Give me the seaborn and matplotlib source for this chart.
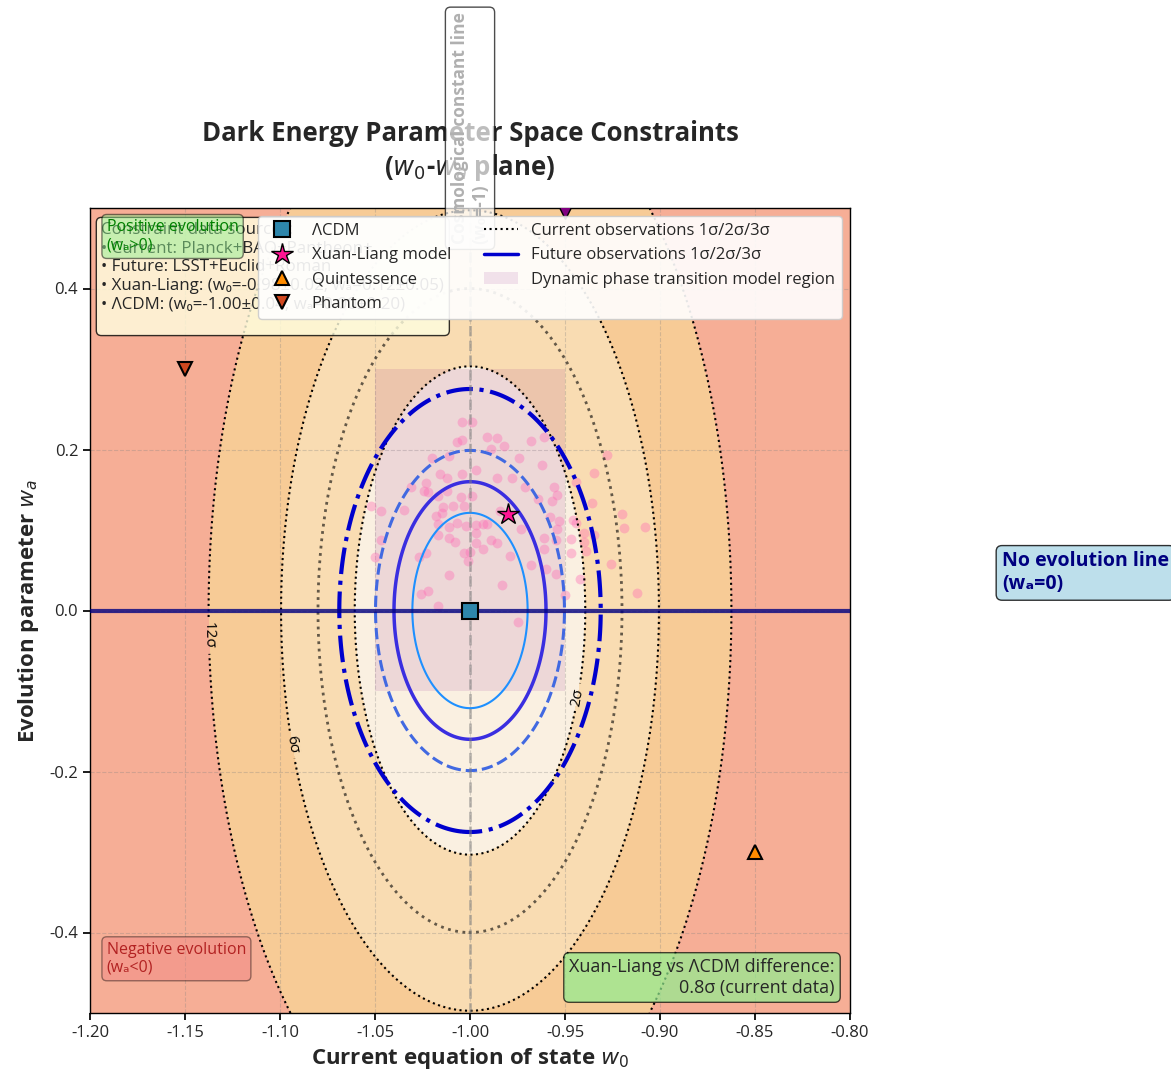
import numpy as np
import pandas as pd
import matplotlib
matplotlib.use("Agg")
import matplotlib.pyplot as plt
import seaborn as sns
from matplotlib.lines import Line2D
from matplotlib.patches import Patch, Rectangle

sns.set_theme(style="ticks")
plt.rcParams["font.family"] = ["Open Sans", "DejaVu Sans"]
plt.rcParams["axes.unicode_minus"] = False

# ---- model points ----
lcdm_w0, lcdm_wa = -1.00, 0.00
xl_w0, xl_wa = -0.98, 0.12
quint_w0, quint_wa = -0.85, -0.30
phantom_w0, phantom_wa = -1.15, 0.30
extra_w0, extra_wa = -0.95, 0.50

# ---- Gaussian constraint widths (centred on LCDM) ----
current_sigma = (0.04, 0.20)
future_sigma = (0.02, 0.08)
chi2_sigma_levels = [2.30, 6.18, 11.83]
chi2_mid_level = 4.0

# ---- dynamic phase transition region ----
phase_w0 = (-1.05, -0.95)
phase_wa = (-0.10, 0.30)

# ---- Xuan-Liang posterior samples ----
sample_w0 = [-1.004, -0.999, -1.007, -1.004, -0.991, -0.986, -0.989, -1.020, -1.011, -0.997,
             -1.016, -1.012, -1.004, -0.986, -1.023, -1.031, -1.024, -1.012, -1.022, -1.005,
             -0.999, -1.017, -1.052, -1.047, -1.035, -1.014, -1.009, -1.003, -1.018, -1.015,
             -0.984, -1.007, -1.011, -1.002, -0.997, -0.993, -0.991, -1.017, -0.997, -1.017,
             -1.011, -1.008, -0.997, -0.989, -0.986, -1.047, -1.003, -1.000, -0.993, -1.023,
             -1.050, -1.001, -1.027, -1.011, -1.026, -1.022, -1.017,
             -0.961, -0.962, -0.956, -0.954, -0.957, -0.958, -0.953, -0.954, -0.961, -0.955,
             -0.961, -0.960, -0.955, -0.928, -0.935, -0.944, -0.936, -0.920, -0.919, -0.908,
             -0.946, -0.944, -0.940, -0.935, -0.947, -0.940, -0.947, -0.939, -0.926, -0.942,
             -0.912, -0.950,
             -0.982, -0.974, -0.968, -0.978, -0.971, -0.964, -0.973, -0.979, -0.968, -0.975,
             -0.983]
sample_wa = [0.234, 0.234, 0.209, 0.212, 0.215, 0.214, 0.201, 0.189, 0.192, 0.175,
             0.169, 0.164, 0.169, 0.164, 0.159, 0.154, 0.149, 0.149, 0.147, 0.141,
             0.142, 0.142, 0.130, 0.124, 0.125, 0.128, 0.130, 0.130, 0.118, 0.121,
             0.123, 0.109, 0.104, 0.105, 0.106, 0.107, 0.108, 0.107, 0.096, 0.094,
             0.090, 0.085, 0.084, 0.087, 0.084, 0.087, 0.072, 0.073, 0.076, 0.072,
             0.067, 0.061, 0.067, 0.044, 0.020, 0.024, 0.006,
             0.216, 0.181, 0.154, 0.143, 0.136, 0.116, 0.111, 0.101, 0.090, 0.087,
             0.077, 0.051, 0.045, 0.193, 0.171, 0.160, 0.134, 0.120, 0.103, 0.104,
             0.112, 0.109, 0.096, 0.094, 0.089, 0.085, 0.072, 0.074, 0.058, 0.039,
             0.022, 0.019,
             0.204, 0.190, 0.211, 0.165, 0.154, 0.138, 0.101, 0.068, 0.057, -0.014,
             0.032]

x_ticks = [-1.20, -1.15, -1.10, -1.05, -1.00, -0.95, -0.90, -0.85, -0.80]
y_ticks = [-0.4, -0.2, 0.0, 0.2, 0.4]

# ---- grid for chi-square surfaces ----
w0_grid = np.linspace(-1.2, -0.8, 400)
wa_grid = np.linspace(-0.5, 0.5, 400)
W0, WA = np.meshgrid(w0_grid, wa_grid)
chi2_current = ((W0 - lcdm_w0) / current_sigma[0]) ** 2 + ((WA - lcdm_wa) / current_sigma[1]) ** 2
chi2_future = ((W0 - lcdm_w0) / future_sigma[0]) ** 2 + ((WA - lcdm_wa) / future_sigma[1]) ** 2

fig = plt.figure(figsize=(11.71, 10.75), dpi=100)
ax = fig.add_axes([90 / 1171, 62 / 1075, 760 / 1171, 805 / 1075])

# background confidence bands
ax.contourf(W0, WA, chi2_current,
            levels=[0] + chi2_sigma_levels + [chi2_current.max() + 1],
            colors=["#faf0e1", "#f9dcb2", "#f7cb96", "#f6ae96"], zorder=0)

ax.grid(True, linestyle="--", linewidth=0.8, alpha=0.3, color="gray")

# phase transition region
ax.add_patch(Rectangle((phase_w0[0], phase_wa[0]), phase_w0[1] - phase_w0[0],
                       phase_wa[1] - phase_wa[0], facecolor="purple", alpha=0.1,
                       edgecolor="none", zorder=1))

# Xuan-Liang samples
samples = pd.DataFrame({"w0": sample_w0, "wa": sample_wa})
sns.scatterplot(data=samples, x="w0", y="wa", ax=ax, color="hotpink", alpha=0.38,
                s=50, linewidth=0, zorder=2, legend=False)

# current observation contours
cs_cur = ax.contour(W0, WA, chi2_current, levels=chi2_sigma_levels, colors="black",
                    linestyles=":", linewidths=1.5, zorder=3)
ax.contour(W0, WA, chi2_current, levels=[chi2_mid_level], colors="black",
           linestyles=":", linewidths=2.0, alpha=0.6, zorder=3)
ax.clabel(cs_cur, fmt=lambda v: f"{v:.0f}σ", fontsize=11, inline=True,
          manual=[(-0.945, -0.107), (-1.092, -0.166), (-1.138, -0.031)])

# future observation contours
fut_levels = sorted(chi2_sigma_levels + [chi2_mid_level])
ax.contour(W0, WA, chi2_future, levels=fut_levels,
           colors=["#1e90ff", "#3a2ee0", "#4169e1", "#0000cd"],
           linestyles=["-", "-", "--", "-."], linewidths=[1.5, 2.5, 2.2, 3.0], zorder=3)

# reference lines
ax.axhline(0, color="navy", linewidth=3, alpha=0.8, zorder=3)
ax.axvline(-1, color="gray", linestyle="--", linewidth=2, alpha=0.5, zorder=3)

# model markers
ax.plot(lcdm_w0, lcdm_wa, "s", color="#2e86ab", markersize=12, markeredgecolor="black",
        markeredgewidth=1.5, zorder=6, label="ΛCDM")
ax.plot(xl_w0, xl_wa, "*", color="#ff1493", markersize=16, markeredgecolor="black",
        markeredgewidth=1.0, zorder=6, label="Xuan-Liang model")
ax.plot(quint_w0, quint_wa, "^", color="#ff8c00", markersize=10, markeredgecolor="black",
        markeredgewidth=1.5, zorder=6, label="Quintessence")
ax.plot(phantom_w0, phantom_wa, "v", color="#d1481f", markersize=10, markeredgecolor="black",
        markeredgewidth=1.5, zorder=6, label="Phantom")
ax.plot(extra_w0, extra_wa, "v", color="purple", markersize=16, markeredgecolor="black",
        markeredgewidth=1.0, zorder=6)

ax.set_xlim(-1.2, -0.8)
ax.set_ylim(-0.5, 0.5)
ax.set_xticks(x_ticks)
ax.set_xticklabels([f"{t:.2f}" for t in x_ticks])
ax.set_yticks(y_ticks)
ax.set_yticklabels([f"{t:.1f}" for t in y_ticks])
ax.tick_params(labelsize=12, length=5, color="black")
for sp in ax.spines.values():
    sp.set_color("black")
    sp.set_linewidth(1.0)

ax.set_xlabel("Current equation of state $w_0$", fontsize=16, fontweight="bold", labelpad=4)
ax.set_ylabel("Evolution parameter $w_a$", fontsize=16, fontweight="bold", labelpad=6)
ax.set_title("Dark Energy Parameter Space Constraints\n($w_0$-$w_a$ plane)",
             fontsize=18.5, fontweight="bold", pad=24)

# legend
handles = ax.get_legend_handles_labels()[0][:4] + [
    Line2D([], [], color="black", linestyle=":", linewidth=1.5),
    Line2D([], [], color="#0000cd", linestyle="-", linewidth=2.5),
    Patch(facecolor="purple", alpha=0.1, edgecolor="none"),
]
labels = ["ΛCDM", "Xuan-Liang model", "Quintessence", "Phantom",
          "Current observations 1σ/2σ/3σ", "Future observations 1σ/2σ/3σ",
          "Dynamic phase transition model region"]
leg = ax.legend(handles, labels, loc="upper right", ncol=2, fontsize=12, framealpha=0.9,
                fancybox=True)
leg.set_zorder(7)

# annotations
ax.text(0.015, 0.982,
        "Constraint data sources:\n• Current: Planck+BAO+Pantheon+\n• Future: LSST+Euclid+Roman\n"
        "• Xuan-Liang: (w₀=-0.98±0.02, wₐ=0.12±0.05)\n• ΛCDM: (w₀=-1.00±0.04, wₐ=0.00±0.20)\n",
        transform=ax.transAxes, va="top", ha="left", fontsize=12.2, zorder=4,
        bbox=dict(boxstyle="round", facecolor="lightyellow", edgecolor="black", alpha=0.8))
ax.text(0.022, 0.986, "Positive evolution\n(wₐ>0)", transform=ax.transAxes, va="top",
        ha="left", fontsize=11.5, color="green", zorder=4,
        bbox=dict(boxstyle="round", facecolor="lightgreen", edgecolor="black", alpha=0.5))
ax.text(0.022, 0.046, "Negative evolution\n(wₐ<0)", transform=ax.transAxes, va="bottom",
        ha="left", fontsize=11.5, color="firebrick", zorder=4,
        bbox=dict(boxstyle="round", facecolor="lightcoral", edgecolor="black", alpha=0.4))
ax.text(0.98, 0.02, "Xuan-Liang vs ΛCDM difference:\n0.8σ (current data)",
        transform=ax.transAxes, va="bottom", ha="right", fontsize=13, zorder=4,
        bbox=dict(boxstyle="round", facecolor="lightgreen", edgecolor="black", alpha=0.7))
ax.text(-0.72, 0.02, "No evolution line\n(wₐ=0)", va="bottom", ha="left", fontsize=14,
        fontweight="bold", color="navy", zorder=4,
        bbox=dict(boxstyle="round", facecolor="lightblue", edgecolor="black", alpha=0.8))
ax.text(-1.0, 0.455, "Cosmological constant line\n(w₀=-1)", rotation=90, va="bottom",
        ha="center", ma="left", fontsize=12.5, fontweight="bold", color="#b0b0b0", zorder=4,
        bbox=dict(boxstyle="round", facecolor="white", edgecolor="black", alpha=0.7))

fig.savefig("out.png", dpi=100)
